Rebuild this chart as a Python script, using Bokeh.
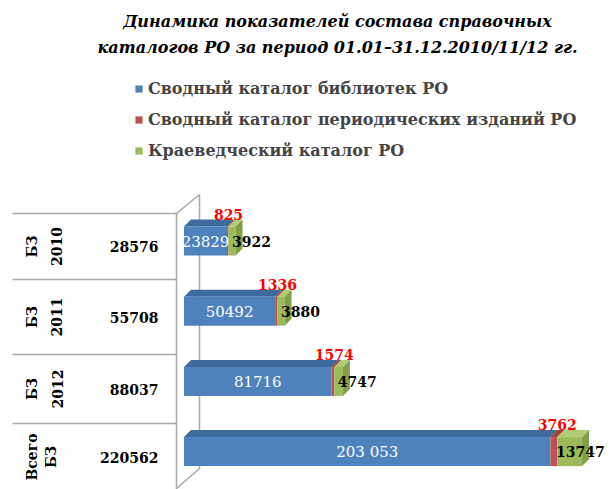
import numpy as np
from bokeh.plotting import figure
from bokeh.models import Range1d, Label, Legend, LegendItem
from bokeh.core.properties import value
from bokeh.embed import file_html
from bokeh.resources import INLINE

# ---------------- data ----------------
categories = ["БЗ 2010", "БЗ 2011", "БЗ 2012", "Всего БЗ"]
cat_line1 = ["БЗ", "БЗ", "БЗ", "Всего"]
cat_line2 = ["2010", "2011", "2012", "БЗ"]
totals = [28576, 55708, 88037, 220562]
libraries = [23829, 50492, 81716, 203053]
periodicals = [825, 1336, 1574, 3762]
local_history = [3922, 3880, 4747, 13747]
library_labels = ["23829", "50492", "81716", "203 053"]
series_names = ["Сводный каталог библиотек РО",
                "Сводный каталог периодических изданий РО",
                "Краеведческий каталог РО"]
title_lines = ["Динамика показателей состава справочных",
               "каталогов РО за период 01.01–31.12.2010/11/12 гг."]

# ---------------- geometry / styles ----------------
W, H = 614, 489
SX = 0.001805      # px per unit
X0 = 183.5         # px of value 0
ROW = 70.2         # px per category step
Y0 = 37.9          # px from bottom of the last category

def px2x(px):
    return (px - X0) / SX

def py2y(py):
    return (H - py - Y0) / ROW

SERIF = value("DejaVu Serif")
BLUE, RED, GREEN = "#4F81BD", "#C0504D", "#9BBB59"
TOPS = ["#3F6A9E", "#9E3F3C", "#B0CC74"]
GREEN_SIDE = "#82A047"

p = figure(width=W, height=H, x_range=Range1d(-X0 / SX, (W - X0) / SX),
           y_range=Range1d(-Y0 / ROW, (H - Y0) / ROW),
           output_backend="svg", toolbar_location=None, min_border=0,
           x_axis_location=None, y_axis_location=None)
p.grid.visible = False
p.outline_line_color = None
p.background_fill_color = "white"

n = len(categories)
ys = np.array([n - 1 - i for i in range(n)], dtype=float)
BH = 29 / ROW
DX = 7 / SX
DY = 7 / ROW

# ---------------- table / wall lines ----------------
row_tops = [213, 279, 354, 423]
xs_lines = [[px2x(12), px2x(176)] for _ in row_tops]
ys_lines = [[py2y(t), py2y(t)] for t in row_tops]
xs_lines += [[px2x(176), px2x(176)], [px2x(176), px2x(199)],
             [px2x(199), px2x(199)], [px2x(199), px2x(176)]]
ys_lines += [[py2y(213), py2y(489)], [py2y(213), py2y(194)],
             [py2y(194), py2y(468)], [py2y(468), py2y(488)]]
p.multi_line(xs=xs_lines, ys=ys_lines, line_color="#a8a8a8", line_width=1.5)

# ---------------- 3D stacked bars ----------------
series = [np.array(libraries, float), np.array(periodicals, float), np.array(local_history, float)]
fronts = [BLUE, RED, GREEN]
left = np.zeros(n)
renderers = []
for s, col, top in zip(series, fronts, TOPS):
    right = left + s
    txs = [[l, r, r + DX, l + DX] for l, r in zip(left, right)]
    tys = [[y + BH / 2, y + BH / 2, y + BH / 2 + DY, y + BH / 2 + DY] for y in ys]
    p.patches(xs=txs, ys=tys, fill_color=top, line_color=None)
    r_ = p.hbar(y=ys, left=left, right=right, height=BH, fill_color=col, line_color=None)
    renderers.append(r_)
    left = right

# green end face
sxs = [[r, r + DX, r + DX, r] for r in left]
sys_ = [[y - BH / 2, y - BH / 2 + DY, y + BH / 2 + DY, y + BH / 2] for y in ys]
p.patches(xs=sxs, ys=sys_, fill_color=GREEN_SIDE, line_color=None)

# ---------------- bar labels ----------------
lib = np.array(libraries, float)
per_end = lib + np.array(periodicals, float)
p.text(x=lib / 2, y=ys, text=library_labels, text_font=SERIF, text_font_size="15px",
       text_color="white", text_align="center", text_baseline="middle")
p.text(x=per_end, y=ys + BH / 2 + DY, text=[str(v) for v in periodicals], text_font=SERIF,
       text_font_size="14px", text_font_style="bold", text_color="#FF0000",
       text_align="center", text_baseline="bottom")
p.text(x=per_end + 23 / SX, y=ys, text=[str(v) for v in local_history], text_font=SERIF,
       text_font_size="14px", text_font_style="bold", text_color="black",
       text_align="center", text_baseline="middle")

# ---------------- table text ----------------
row_centers = [246, 316.5, 388.5, 456.5]
rc = [py2y(c) for c in row_centers]
p.text(x=[px2x(31.5)] * n, y=rc, text=cat_line1, text_font=SERIF, text_font_size="14px",
       text_font_style="bold", angle=np.pi / 2, text_align="center", text_baseline="middle")
p.text(x=[px2x(56), px2x(56), px2x(57), px2x(50)], y=rc, text=cat_line2, text_font=SERIF,
       text_font_size="14px", text_font_style="bold", angle=np.pi / 2,
       text_align="center", text_baseline="middle")
p.text(x=[px2x(158)] * n, y=rc, text=[str(v) for v in totals], text_font=SERIF,
       text_font_size="14px", text_font_style="bold", text_align="right",
       text_baseline="middle")

# ---------------- title ----------------
for line, yc in zip(title_lines, [21, 47]):
    p.add_layout(Label(x=337, y=H - yc, x_units="screen", y_units="screen",
                       text=line, text_align="center", text_baseline="middle",
                       text_font="DejaVu Serif", text_font_style="bold italic",
                       text_font_size="16px", text_color="black"))

# ---------------- legend ----------------
legend = Legend(items=[LegendItem(label=nm, renderers=[r]) for nm, r in zip(series_names, renderers)],
                location=(134, H - 160.5), orientation="vertical",
                label_text_font="DejaVu Serif", label_text_font_style="bold",
                label_text_font_size="16px", glyph_width=9, glyph_height=9,
                label_standoff=5, label_height=20, spacing=11, padding=0, margin=0,
                border_line_color=None, background_fill_alpha=0)
p.add_layout(legend)

open("out.html", "w").write(file_html(p, INLINE))
